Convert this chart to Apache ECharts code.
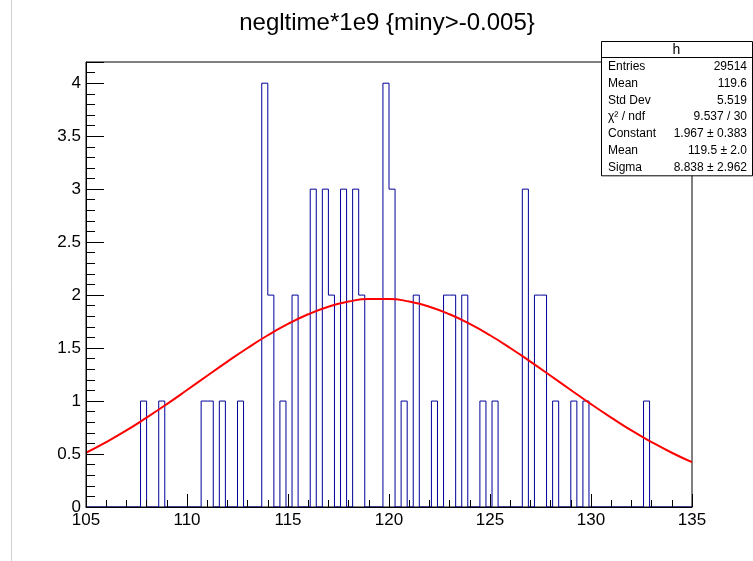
<!DOCTYPE html>
<html>
<head>
<meta charset="utf-8">
<script src="https://cdn.jsdelivr.net/npm/echarts@6/dist/echarts.min.js"></script>
<style>html,body{margin:0;padding:0;background:#fff}#c{width:753px;height:561px}</style>
</head>
<body>
<div id="c"></div>
<script>
// ---- data ----
const titleText = 'negltime*1e9 {miny>-0.005}';
const xRange = [105, 135];
const nBins = 100;
const counts = [
  0,0,0,0,0,0,0,0,0,1,
  0,0,1,0,0,0,0,0,0,1,
  1,0,1,0,0,1,0,0,0,4,
  2,0,1,0,2,0,0,3,0,3,
  2,0,3,0,3,2,0,0,0,4,
  3,0,1,0,2,0,0,1,0,2,
  2,0,2,0,0,1,0,1,0,0,
  0,0,3,0,2,2,0,1,0,0,
  1,0,1,0,0,0,0,0,0,0,
  0,0,1,0,0,0,0,0,0,0
];
const fitX = [105,106,107,108,109,110,111,112,113,114,115,116,117,118,119,120,121,122,123,124,125,126,127,128,129,130,131,132,133,134,135];
const fitY = [0.512,0.613,0.723,0.844,0.971,1.104,1.239,1.372,1.501,1.621,1.728,1.819,1.890,1.939,1.964,1.964,1.939,1.890,1.819,1.728,1.621,1.501,1.372,1.239,1.104,0.971,0.844,0.723,0.613,0.512,0.423];
const statsTitle = 'h';
const statsNames = ['Entries','Mean','Std Dev','\u03c7\u00b2 / ndf','Constant','Mean','Sigma'];
const statsValues = ['29514','119.6','5.519','9.537 / 30','1.967 \u00b1 0.383','119.5 \u00b1 2.0','8.838 \u00b1 2.962'];
const yTicks = {min: 0, max: 4.2, step: 0.5};

// ---- build ----
const bw = (xRange[1] - xRange[0]) / nBins;
const histPts = [[xRange[0], 0]];
counts.forEach((v, i) => {
  const lo = xRange[0] + i * bw, hi = lo + bw;
  histPts.push([lo, v], [hi, v]);
});
histPts.push([xRange[1], 0]);
const fitPts = fitX.map((x, i) => [x, fitY[i]]);

const FONT = '"Liberation Sans", Arial, Helvetica, sans-serif';
const chart = echarts.init(document.getElementById('c'), null, {renderer: 'canvas'});

const boxL = 601, boxR = 752, boxT = 41, headH = 16, rowH = 16.9;
const statsEls = [
  {type: 'rect', shape: {x: boxL + 0.5, y: boxT + 0.5, width: boxR - boxL, height: headH + rowH * statsNames.length}, style: {fill: '#fff', stroke: '#000', lineWidth: 1}},
  {type: 'line', shape: {x1: boxL, y1: boxT + headH + 0.5, x2: boxR, y2: boxT + headH + 0.5}, style: {stroke: '#000', lineWidth: 1}},
  {type: 'text', x: (boxL + boxR) / 2, y: boxT + headH / 2 + 1, style: {text: statsTitle, font: '14px ' + FONT, fill: '#000', align: 'center', verticalAlign: 'middle'}}
];
statsNames.forEach((n, i) => {
  const cy = boxT + headH + rowH * (i + 0.5) + 1;
  statsEls.push({type: 'text', x: boxL + 7, y: cy, style: {text: n, font: '12px ' + FONT, fill: '#000', align: 'left', verticalAlign: 'middle'}});
  statsEls.push({type: 'text', x: boxR - 5, y: cy, style: {text: statsValues[i], font: '12px ' + FONT, fill: '#000', align: 'right', verticalAlign: 'middle'}});
});

chart.setOption({
  animation: false,
  backgroundColor: '#fff',
  grid: {left: 86, right: 61, top: 62, bottom: 54, show: true, borderColor: '#000', borderWidth: 1, backgroundColor: 'transparent'},
  xAxis: {
    type: 'value', min: xRange[0], max: xRange[1], interval: 5, z: 10,
    axisLine: {show: true, onZero: false, lineStyle: {color: '#000', width: 1}},
    axisTick: {show: true, inside: true, length: 13, lineStyle: {color: '#000'}},
    minorTick: {show: true, splitNumber: 5, length: 7, lineStyle: {color: '#000'}},
    axisLabel: {color: '#000', fontSize: 17, fontFamily: FONT, margin: 5},
    splitLine: {show: false}
  },
  yAxis: {
    type: 'value', min: yTicks.min, max: yTicks.max, interval: yTicks.step, z: 10,
    axisLine: {show: true, onZero: false, lineStyle: {color: '#000', width: 1}},
    axisTick: {show: true, inside: true, length: 18, lineStyle: {color: '#000'}},
    minorTick: {show: true, splitNumber: 5, length: 9, lineStyle: {color: '#000'}},
    axisLabel: {color: '#000', fontSize: 17, fontFamily: FONT, margin: 5, showMaxLabel: false},
    splitLine: {show: false}
  },
  series: [
    {type: 'line', data: histPts, symbol: 'none', lineStyle: {color: '#000099', width: 1}, clip: true, z: 3},
    {type: 'line', data: fitPts, symbol: 'none', smooth: true, lineStyle: {color: '#ff0000', width: 2}, clip: true, z: 4}
  ],
  graphic: [
    {type: 'line', shape: {x1: 11.5, y1: 0, x2: 11.5, y2: 561}, style: {stroke: '#d0d0d0', lineWidth: 1}, z: 1},
    {type: 'text', x: 387, y: 23, style: {text: titleText, font: '24px ' + FONT, fill: '#000', align: 'center', verticalAlign: 'middle'}, z: 10},
    {type: 'group', z: 100, children: statsEls}
  ]
});
</script>
</body>
</html>
